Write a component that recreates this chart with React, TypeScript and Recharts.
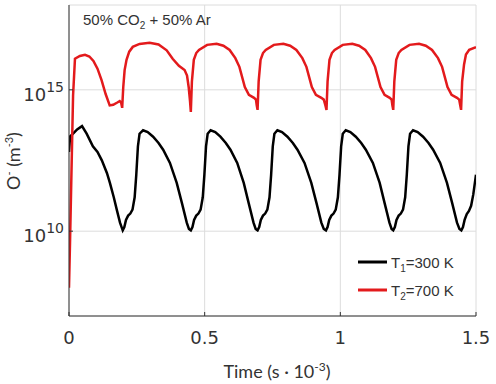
import { LineChart, Line, XAxis, YAxis, CartesianGrid } from 'recharts'

// time in ms (s · 10^-3), density in m^-3
const blackTime = [
  0, 0.004, 0.015, 0.03, 0.048, 0.065, 0.088, 0.105, 0.121, 0.14, 0.151, 0.165, 0.176, 0.188, 0.198,
  0.204, 0.21, 0.218, 0.226, 0.234, 0.242, 0.248, 0.254, 0.26, 0.273, 0.29, 0.31, 0.33, 0.347, 0.372, 0.397, 0.416, 0.434, 0.442, 0.449,
  0.455, 0.461, 0.469, 0.477, 0.485, 0.493, 0.499, 0.505, 0.511, 0.522, 0.539, 0.558, 0.578, 0.595, 0.62, 0.644, 0.662, 0.68, 0.688, 0.695,
  0.701, 0.707, 0.715, 0.723, 0.731, 0.739, 0.745, 0.751, 0.757, 0.768, 0.785, 0.805, 0.825, 0.842, 0.868, 0.893, 0.912, 0.93, 0.939, 0.947,
  0.953, 0.959, 0.967, 0.975, 0.983, 0.991, 0.997, 1.003, 1.009, 1.02, 1.037, 1.057, 1.077, 1.094, 1.12, 1.145, 1.163, 1.181, 1.189, 1.195,
  1.201, 1.207, 1.215, 1.223, 1.231, 1.239, 1.245, 1.251, 1.257, 1.268, 1.285, 1.305, 1.325, 1.342, 1.368, 1.393, 1.412, 1.43, 1.439, 1.446,
  1.452, 1.458, 1.466, 1.474, 1.482, 1.49, 1.5,
]
const blackDensity = [
  6.3e12, 2.24e13, 2.8e13, 4.0e13, 5.2e13, 2.8e13, 1e13, 6.3e12, 3.2e12, 1.12e12, 5e11, 1.58e11, 5.8e10, 2e10, 1.07e10,
  1.41e10, 2.5e10, 3.55e10, 4.2e10, 5.8e10, 1.58e11, 1e12, 1e13, 2.8e13, 3.7e13, 3.2e13, 2.2e13, 1.32e13, 7.6e12, 2.6e12, 5.1e11, 1e11, 2e10, 1.2e10, 1.07e10,
  1.41e10, 2.5e10, 3.55e10, 4.2e10, 5.8e10, 1.58e11, 1e12, 1e13, 2.8e13, 3.7e13, 3.2e13, 2.2e13, 1.32e13, 7.6e12, 2.6e12, 5.1e11, 1e11, 2e10, 1.2e10, 1.07e10,
  1.41e10, 2.5e10, 3.55e10, 4.2e10, 5.8e10, 1.58e11, 1e12, 1e13, 2.8e13, 3.7e13, 3.2e13, 2.2e13, 1.32e13, 7.6e12, 2.6e12, 5.1e11, 1e11, 2e10, 1.2e10, 1.07e10,
  1.41e10, 2.5e10, 3.55e10, 4.2e10, 5.8e10, 1.58e11, 1e12, 1e13, 2.8e13, 3.7e13, 3.2e13, 2.2e13, 1.32e13, 7.6e12, 2.6e12, 5.1e11, 1e11, 2e10, 1.2e10, 1.07e10,
  1.41e10, 2.5e10, 3.55e10, 4.2e10, 5.8e10, 1.58e11, 1e12, 1e13, 2.8e13, 3.7e13, 3.2e13, 2.2e13, 1.32e13, 7.6e12, 2.6e12, 5.1e11, 1e11, 2e10, 1.2e10, 1.07e10,
  1.41e10, 2.5e10, 4.0e10, 5.2e10, 7.9e10, 2.0e11, 1e12,
]

const redTime = [
  0, 0.004, 0.01, 0.015, 0.022, 0.04, 0.059, 0.075, 0.09, 0.105, 0.12, 0.135, 0.15, 0.163, 0.178, 0.187, 0.192, 0.196,
  0.2, 0.205, 0.212, 0.222, 0.235, 0.26, 0.297, 0.33, 0.36, 0.382, 0.405, 0.426, 0.435, 0.441, 0.446, 0.449,
  0.453, 0.46, 0.469, 0.479, 0.509, 0.544, 0.569, 0.592, 0.613, 0.628, 0.648, 0.663, 0.682, 0.689, 0.692, 0.695,
  0.699, 0.706, 0.715, 0.725, 0.755, 0.79, 0.815, 0.838, 0.86, 0.875, 0.895, 0.91, 0.93, 0.939, 0.945, 0.949,
  0.953, 0.96, 0.969, 0.979, 1.009, 1.044, 1.069, 1.092, 1.113, 1.128, 1.148, 1.163, 1.182, 1.189, 1.192, 1.195,
  1.199, 1.206, 1.215, 1.225, 1.255, 1.29, 1.315, 1.338, 1.36, 1.375, 1.395, 1.41, 1.43, 1.438, 1.442, 1.445,
  1.449, 1.456, 1.463, 1.475, 1.5,
]
const redDensity = [
  1e8, 5e9, 3.2e12, 6.3e14, 1.26e16, 1.58e16, 1.74e16, 1.51e16, 1.05e16, 5.6e15, 2.2e15, 7.1e14, 2.8e14, 2.95e14, 3.55e14, 4.0e14, 3.55e14, 2.3e14,
  1.26e15, 5.0e15, 1.15e16, 2.24e16, 3.3e16, 4.2e16, 4.6e16, 4.0e16, 2.5e16, 1.26e16, 7.1e15, 5.0e15, 3.2e15, 1.26e15, 4.0e14, 1.66e14,
  2.0e15, 1.15e16, 2.0e16, 2.57e16, 3.9e16, 4.27e16, 3.63e16, 2.57e16, 1.32e16, 6.5e15, 1.26e15, 6.6e14, 5.2e14, 4.5e14, 2.8e14, 1.95e14,
  2.0e15, 1.15e16, 2.0e16, 2.57e16, 3.9e16, 4.27e16, 3.63e16, 2.57e16, 1.32e16, 6.5e15, 1.26e15, 6.6e14, 5.2e14, 4.5e14, 2.8e14, 1.95e14,
  2.0e15, 1.15e16, 2.0e16, 2.57e16, 3.9e16, 4.27e16, 3.63e16, 2.57e16, 1.32e16, 6.5e15, 1.26e15, 6.6e14, 5.2e14, 4.5e14, 2.8e14, 1.95e14,
  2.0e15, 1.15e16, 2.0e16, 2.57e16, 3.9e16, 4.27e16, 3.63e16, 2.57e16, 1.32e16, 6.5e15, 1.26e15, 6.6e14, 5.2e14, 4.5e14, 2.8e14, 1.95e14,
  2.0e15, 7.9e15, 1.78e16, 2.6e16, 3.2e16,
]

const timeTicks = [0, 0.5, 1, 1.5]
const densityTicks = [1e10, 1e15]

const black = blackTime.map((t, i) => ({ t, v: blackDensity[i] }))
const red = redTime.map((t, i) => ({ t, v: redDensity[i] }))

const AXIS = '#333'
const RED = '#e31a1c'
const TICK_FONT = 'DejaVu Sans'
const LABEL_FONT = 'Lato'

function PowerTick({ x, y, payload }: any) {
  const exp = Math.round(Math.log10(payload.value))
  return (
    <text x={x} y={y + 11} textAnchor="end" fill={AXIS} fontFamily={TICK_FONT} fontSize={18}>
      10<tspan dy={-9} fontSize={14}>{exp}</tspan>
    </text>
  )
}

export default function App() {
  return (
    <div style={{ position: 'absolute', left: 0, top: 0, width: 496, height: 384, background: '#fff' }}>
      <LineChart width={496} height={384} margin={{ top: 5, right: 20, bottom: 0, left: 0 }}>
        <CartesianGrid stroke="#dcdcdc" />
        <XAxis
          dataKey="t"
          type="number"
          domain={[0, 1.5]}
          ticks={timeTicks}
          height={68}
          tickSize={-4}
          tickMargin={19}
          stroke={AXIS}
          tick={{ fill: AXIS, fontSize: 18, fontFamily: TICK_FONT }}
          allowDataOverflow
        />
        <XAxis
          xAxisId="top"
          orientation="top"
          type="number"
          domain={[0, 1.5]}
          ticks={[0.5, 1]}
          height={0}
          tickSize={-4}
          tick={false}
          stroke={AXIS}
        />
        <YAxis
          type="number"
          scale="log"
          domain={[1e7, 1e18]}
          ticks={densityTicks}
          width={69}
          tickSize={-4}
          tickMargin={9}
          stroke={AXIS}
          tick={<PowerTick />}
          allowDataOverflow
        />
        <YAxis
          yAxisId="r"
          orientation="right"
          type="number"
          scale="log"
          domain={[1e7, 1e18]}
          ticks={densityTicks}
          width={0}
          tickSize={-4}
          tick={false}
          stroke={AXIS}
          allowDataOverflow
        />
        <Line data={black} dataKey="v" stroke="#000" strokeWidth={2.5} dot={false} isAnimationActive={false} />
        <Line data={red} dataKey="v" stroke={RED} strokeWidth={2.5} dot={false} isAnimationActive={false} />
      </LineChart>

      <svg width={496} height={384} style={{ position: 'absolute', left: 0, top: 0, pointerEvents: 'none' }}>
        <text x={83} y={25} fill={AXIS} fontFamily="Liberation Sans" fontSize={15}>
          50% CO<tspan dy={4} fontSize={10}>2</tspan><tspan dy={-4}> + 50% Ar</tspan>
        </text>

        <line x1={358} x2={387} y1={262} y2={262} stroke="#000" strokeWidth={3} />
        <text x={391} y={268} fill={AXIS} fontFamily="Liberation Sans" fontSize={15}>
          T<tspan dy={4} fontSize={10}>1</tspan><tspan dy={-4}>=300 K</tspan>
        </text>
        <line x1={358} x2={387} y1={290} y2={290} stroke={RED} strokeWidth={3} />
        <text x={391} y={296} fill={AXIS} fontFamily="Liberation Sans" fontSize={15}>
          T<tspan dy={4} fontSize={10}>2</tspan><tspan dy={-4}>=700 K</tspan>
        </text>

        <text x={277} y={378} textAnchor="middle" fill={AXIS} fontFamily={LABEL_FONT} fontSize={18}>
          Time (s · 10<tspan dy={-7} fontSize={12}>-3</tspan><tspan dy={7}>)</tspan>
        </text>
        <text transform="translate(20 161) rotate(-90)" textAnchor="middle" fill={AXIS} fontFamily={LABEL_FONT} fontSize={18}>
          O<tspan dy={-7} fontSize={11}>-</tspan><tspan dy={7}> (m</tspan><tspan dy={-7} fontSize={11}>-3</tspan><tspan dy={7}>)</tspan>
        </text>
      </svg>
    </div>
  )
}
